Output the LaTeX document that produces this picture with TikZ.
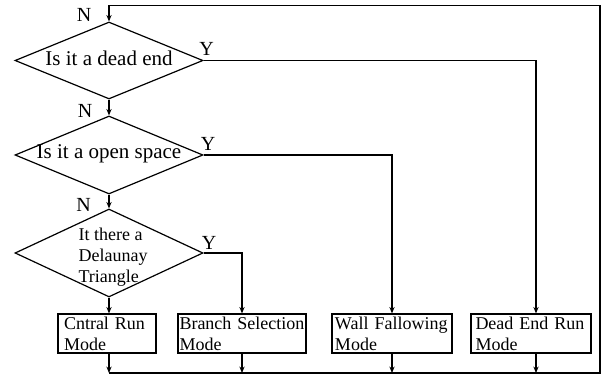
\documentclass[tikz,border=0pt]{standalone}
\usepackage{fontspec}
\setmainfont{Liberation Serif}
\usetikzlibrary{positioning,arrows.meta,shapes,calc}

\begin{document}
\begin{tikzpicture}[
  x=0.5pt,y=-0.5pt,
  line width=0.6pt,
  decision/.style={diamond,draw,inner sep=0pt,minimum width=94pt,minimum height=#1},
  qtext/.style={inner sep=0pt,font=\fontsize{10.5}{12.6}\selectfont},
  modebox/.style={rectangle,draw,inner ysep=0pt,minimum height=19.5pt,align=left,text width=#1,font=\fontsize{9}{10.5}\selectfont},
  flow/.style={-{Stealth[length=3.2pt,width=2.6pt]}},
  lab/.style={inner sep=0pt,font=\fontsize{10}{12}\selectfont},
]
\useasboundingbox (0,0) rectangle (607,379);

% === decisions ===
\node[decision=38.5pt] (d1) at (109,60.5) {};
\node[decision=39pt]   (d2) at (109,155)  {};
\node[decision=44pt]   (d3) at (109,253)  {};

\node[qtext,anchor=base] (q1) at ($(d1.center)+(0,5.5)$) {Is it a dead end};
\node[qtext,anchor=base] (q2) at ($(d2.center)+(0,4)$)   {Is it a open space};
\node[qtext,font=\fontsize{9}{10.5}\selectfont,align=left,anchor=north west] (q3) at (78,227.8) {It there a\\Delaunay\\Triangle};

% N / Y labels
\node[lab] (n1) at ($(d1.north)+(-25,-6)$)   {N};
\node[lab] (y1) at ($(d1.east)+(3,-12)$)     {Y};
\node[lab] (n2) at ($(d2.north)+(-24,-4.5)$) {N};
\node[lab] (y2) at ($(d2.east)+(4.5,-11)$)   {Y};
\node[lab] (n3) at ($(d3.north)+(-25.5,-3)$) {N};
\node[lab] (y3) at ($(d3.east)+(5.5,-10.5)$) {Y};

% === modes ===
\node[modebox=43pt,inner xsep=3pt]      (b1) at (107,333.5) {Cntral Run\\Mode};
\node[modebox=62.5pt,inner xsep=0.75pt] (b2) at (242,333.5) {Branch Selection\\Mode};
\node[modebox=57pt,inner xsep=1.5pt]    (b3) at (392,333.5) {Wall Fallowing\\Mode};
\node[modebox=55.5pt,inner xsep=2.25pt] (b4) at (531,333.5) {Dead End Run\\Mode};

% bottom joints and return loop
\coordinate (j1) at (109,373);
\coordinate (j2) at (242,373);
\coordinate (j3) at (392,373);
\coordinate (j4) at (536,373);
\coordinate (corner) at (600,373);
\coordinate (ret) at (600,5.5);

% === connectors ===
\draw[flow] (d1.south) -- (d2.north);
\draw[flow] (d2.south) -- (d3.north);
\draw[flow] (d3.south) -- (d3.south |- b1.north);

\draw[flow] (d3.east) -| (j2 |- b2.north);
\draw[flow] (d2.east) -| (j3 |- b3.north);
\draw[flow] (d1.east) -| (j4 |- b4.north);

\draw[flow] (j1 |- b1.south) -- (j1);
\draw[flow] (j2 |- b2.south) -- (j2);
\draw[flow] (j3 |- b3.south) -- (j3);
\draw[flow] (j4 |- b4.south) -- (j4);

\draw[flow] (j1) -- (corner) -- (ret) -| (d1.north);

\end{tikzpicture}
\end{document}
